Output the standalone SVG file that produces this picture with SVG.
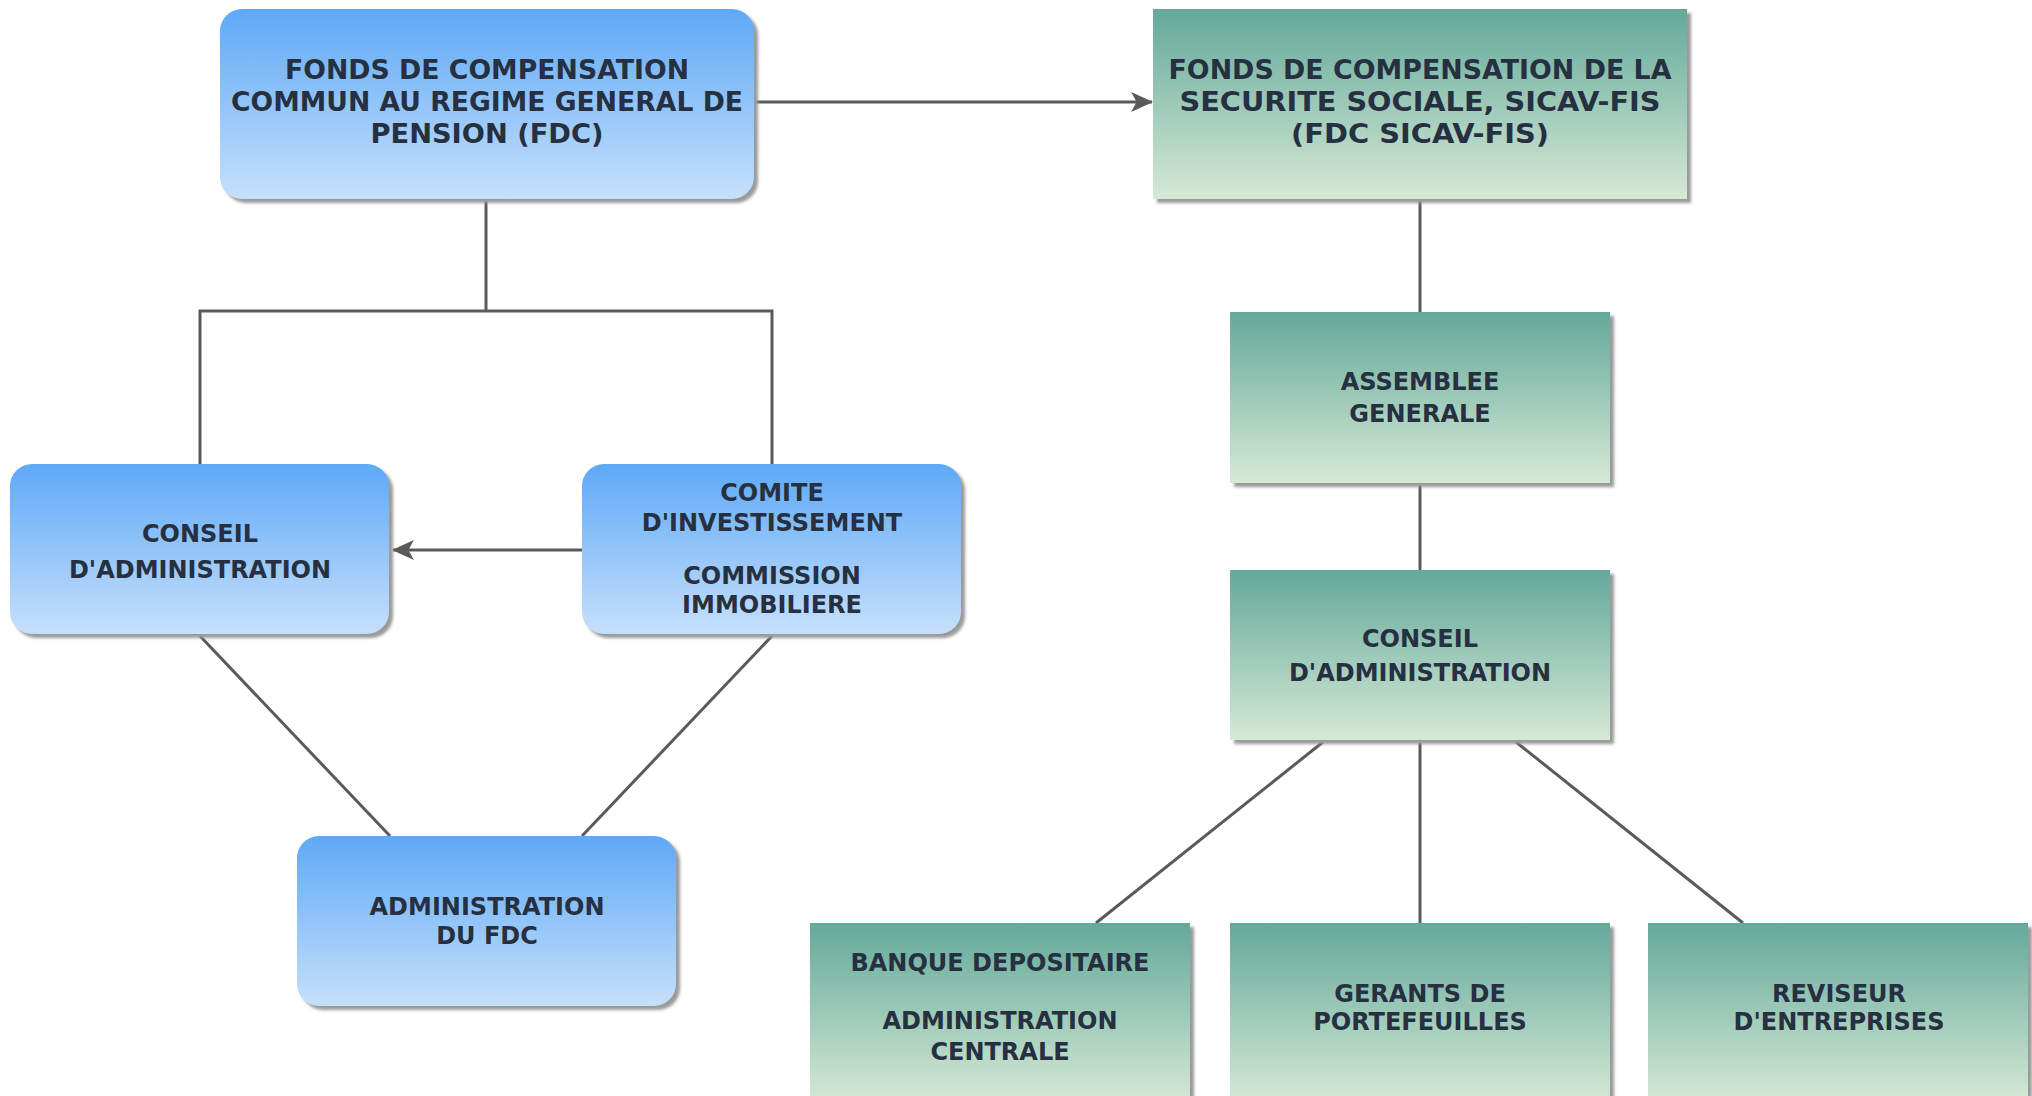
<svg xmlns="http://www.w3.org/2000/svg" width="2032" height="1096" viewBox="0 0 2032 1096">
<defs>
  <linearGradient id="gBlue" x1="0" y1="0" x2="0" y2="1">
    <stop offset="0" stop-color="#5ea9f7"/>
    <stop offset="1" stop-color="#c6e0fb"/>
  </linearGradient>
  <linearGradient id="gGreen" x1="0" y1="0" x2="0" y2="1">
    <stop offset="0" stop-color="#63a99a"/>
    <stop offset="1" stop-color="#d6e9d6"/>
  </linearGradient>
  <filter id="sh" x="-5%" y="-5%" width="115%" height="115%">
    <feGaussianBlur stdDeviation="1.5"/>
  </filter>
  <marker id="arr" viewBox="0 0 20 20" refX="19" refY="10" markerWidth="22" markerHeight="22" markerUnits="userSpaceOnUse" orient="auto">
    <path d="M0,1 L20,10 L0,19 L5,10 Z" fill="#5a5a5a"/>
  </marker>
</defs>
<style>
  .shadow { fill: #9a9a9a; filter: url(#sh); }
  .blue { fill: url(#gBlue); }
  .green { fill: url(#gGreen); }
  .t { font-family: "DejaVu Sans", Verdana, sans-serif; font-weight: bold; font-size: 24px; fill: #263040; text-anchor: middle; }
  .big { font-size: 26.5px; }
  .c { fill: none; stroke: #5a5a5a; stroke-width: 3; }
</style>
<rect width="2032" height="1096" fill="#ffffff"/>

<g id="connectors">
  <line class="c" x1="754" y1="102" x2="1152" y2="102" marker-end="url(#arr)"/>
  <polyline class="c" points="486,201 486,311"/>
  <polyline class="c" points="200,464 200,311 772,311 772,464"/>
  <line class="c" x1="582" y1="550" x2="393" y2="550" marker-end="url(#arr)"/>
  <line class="c" x1="200" y1="636" x2="390" y2="836"/>
  <line class="c" x1="772" y1="636" x2="582" y2="836"/>
  <line class="c" x1="1420" y1="201" x2="1420" y2="312"/>
  <line class="c" x1="1420" y1="485" x2="1420" y2="570"/>
  <line class="c" x1="1323" y1="742" x2="1096" y2="923"/>
  <line class="c" x1="1420" y1="742" x2="1420" y2="923"/>
  <line class="c" x1="1516" y1="742" x2="1743" y2="923"/>
</g>

<g id="n-fdc">
  <rect class="shadow" x="224" y="13" width="534" height="190" rx="22"/>
  <rect class="blue" x="220" y="9" width="534" height="190" rx="22"/>
  <text class="t big" x="487" y="79" textLength="404" lengthAdjust="spacingAndGlyphs">FONDS DE COMPENSATION</text>
  <text class="t big" x="487" y="111" textLength="512" lengthAdjust="spacingAndGlyphs">COMMUN AU REGIME GENERAL DE</text>
  <text class="t big" x="487" y="143" textLength="233" lengthAdjust="spacingAndGlyphs">PENSION (FDC)</text>
</g>

<g id="n-sicav">
  <rect class="shadow" x="1157" y="13" width="534" height="190"/>
  <rect class="green" x="1153" y="9" width="534" height="190"/>
  <text class="t big" x="1420" y="79" textLength="503" lengthAdjust="spacingAndGlyphs">FONDS DE COMPENSATION DE LA</text>
  <text class="t big" x="1420" y="111" textLength="481" lengthAdjust="spacingAndGlyphs">SECURITE SOCIALE, SICAV-FIS</text>
  <text class="t big" x="1420" y="143" textLength="258" lengthAdjust="spacingAndGlyphs">(FDC SICAV-FIS)</text>
</g>

<g id="n-conseil-fdc">
  <rect class="shadow" x="14" y="468" width="379" height="170" rx="22"/>
  <rect class="blue" x="10" y="464" width="379" height="170" rx="22"/>
  <text class="t" x="200" y="542">CONSEIL</text>
  <text class="t" x="200" y="578">D'ADMINISTRATION</text>
</g>

<g id="n-comite">
  <rect class="shadow" x="586" y="468" width="379" height="170" rx="22"/>
  <rect class="blue" x="582" y="464" width="379" height="170" rx="22"/>
  <text class="t" x="772" y="501">COMITE</text>
  <text class="t" x="772" y="531">D'INVESTISSEMENT</text>
  <text class="t" x="772" y="584">COMMISSION</text>
  <text class="t" x="772" y="613">IMMOBILIERE</text>
</g>

<g id="n-admin">
  <rect class="shadow" x="301" y="840" width="379" height="170" rx="22"/>
  <rect class="blue" x="297" y="836" width="379" height="170" rx="22"/>
  <text class="t" x="487" y="915">ADMINISTRATION</text>
  <text class="t" x="487" y="944">DU FDC</text>
</g>

<g id="n-assemblee">
  <rect class="shadow" x="1234" y="316" width="380" height="171"/>
  <rect class="green" x="1230" y="312" width="380" height="171"/>
  <text class="t" x="1420" y="390">ASSEMBLEE</text>
  <text class="t" x="1420" y="422">GENERALE</text>
</g>

<g id="n-conseil-sicav">
  <rect class="shadow" x="1234" y="574" width="380" height="170"/>
  <rect class="green" x="1230" y="570" width="380" height="170"/>
  <text class="t" x="1420" y="647">CONSEIL</text>
  <text class="t" x="1420" y="681">D'ADMINISTRATION</text>
</g>

<g id="n-banque">
  <rect class="shadow" x="814" y="927" width="380" height="180"/>
  <rect class="green" x="810" y="923" width="380" height="180"/>
  <text class="t" x="1000" y="971">BANQUE DEPOSITAIRE</text>
  <text class="t" x="1000" y="1029">ADMINISTRATION</text>
  <text class="t" x="1000" y="1060">CENTRALE</text>
</g>

<g id="n-gerants">
  <rect class="shadow" x="1234" y="927" width="380" height="180"/>
  <rect class="green" x="1230" y="923" width="380" height="180"/>
  <text class="t" x="1420" y="1002">GERANTS DE</text>
  <text class="t" x="1420" y="1030">PORTEFEUILLES</text>
</g>

<g id="n-reviseur">
  <rect class="shadow" x="1652" y="927" width="380" height="180"/>
  <rect class="green" x="1648" y="923" width="380" height="180"/>
  <text class="t" x="1839" y="1002">REVISEUR</text>
  <text class="t" x="1839" y="1030">D'ENTREPRISES</text>
</g>
</svg>
